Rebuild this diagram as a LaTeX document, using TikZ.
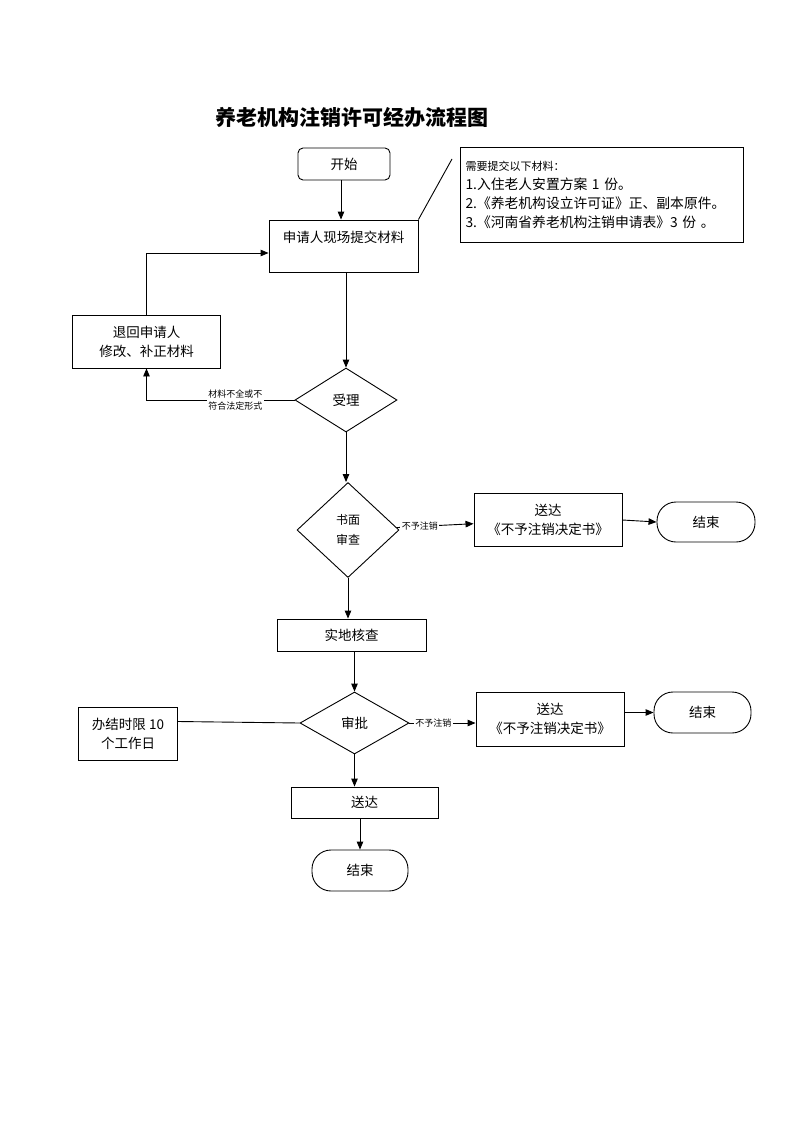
\documentclass[tikz,border=0pt]{standalone}
\usepackage{fontspec}
\setmainfont{Noto Sans CJK SC}
\usetikzlibrary{shapes.geometric,arrows.meta}
\tikzset{
  every picture/.style={line width=0.9pt},
  base/.style={draw=black, line width=0.9pt, inner sep=0pt, align=center, font=\fontsize{13.5}{19}\selectfont},
  procbox/.style={base, rectangle},
  startbox/.style={base, rectangle, rounded corners=5pt},
  endbox/.style={base, rectangle, rounded corners=19pt},
  decide/.style={base, diamond, aspect=1.6},
  lbl/.style={fill=white, inner sep=1.5pt, align=center, font=\fontsize{9}{12.5}\selectfont},
  arr/.style={-{Triangle[length=8pt,width=6.5pt]}, line width=0.9pt},
  ln/.style={line width=0.9pt}
}
\begin{document}
\begin{tikzpicture}[x=1pt,y=-1pt]
\useasboundingbox[fill=white] (0,0) rectangle (800,1132);

\node[font=\fontsize{21}{25}\selectfont\bfseries] (title) at (352,118) {养老机构注销许可经办流程图};

\node[startbox, minimum width=92pt, minimum height=32pt] (start) at (344,164) {开始};
\node[procbox, minimum width=149pt, minimum height=52pt] (apply) at (343.5,246) {申请人现场提交材料\\\mbox{}};
\node[procbox, minimum width=283pt, minimum height=95pt, text width=272pt, align=left, font=\fontsize{13.8}{19}\selectfont] (note) at (601.5,194.5)
  {{\fontsize{11}{15}\selectfont 需要提交以下材料：}\\
   1.入住老人安置方案 1 份。\\
   2.《养老机构设立许可证》正、副本原件。\\
   3.《河南省养老机构注销申请表》3 份 。};
\coordinate (notetip) at (452,159);

\node[decide, minimum width=102pt, minimum height=64pt] (accept) at (346,400) {受理};
\node[procbox, minimum width=148pt, minimum height=53pt] (retreat) at (146.5,341.5) {退回申请人\\修改、补正材料};

\node[decide, minimum width=102pt, minimum height=95pt, font=\fontsize{12}{20}\selectfont] (review) at (348,530) {书面\\审查};
\node[procbox, minimum width=148pt, minimum height=53pt] (refuse1) at (548,520) {送达\\《不予注销决定书》};
\node[endbox, minimum width=98pt, minimum height=40pt] (end1) at (706,522) {结束};

\node[procbox, minimum width=149pt, minimum height=32pt] (check) at (351.5,635) {实地核查};
\node[decide, minimum width=109pt, minimum height=62pt] (approve) at (354.5,723) {审批};
\node[procbox, minimum width=99pt, minimum height=53pt] (limit) at (128,733.5) {办结时限 10\\个工作日};
\node[procbox, minimum width=148pt, minimum height=54pt] (refuse2) at (550,719) {送达\\《不予注销决定书》};
\node[endbox, minimum width=97pt, minimum height=41pt] (end2) at (702.5,712.5) {结束};

\node[procbox, minimum width=147pt, minimum height=31pt] (deliver) at (364.5,802.5) {送达};
\node[endbox, minimum width=96pt, minimum height=41pt] (end3) at (360,870.5) {结束};

% connectors
\draw[arr] (start.south -| 341,0) -- (apply.north -| 341,0);
\draw[ln] (apply.north east) -- (notetip);
\draw[arr] (apply.south -| accept.north) -- (accept.north);
\draw[arr] (accept.west) -- node[lbl, pos=0.4] {材料不全或不\\符合法定形式} (accept.west -| retreat.south) -- (retreat.south);
\draw[arr] (retreat.north) |- ([yshift=-7pt]apply.west);
\draw[arr] (accept.south) -- (accept.south |- review.north);
\draw[arr] (review) -- node[lbl, pos=0.3] {不予注销} (refuse1);
\draw[arr] (refuse1.east) -- (end1.west);
\draw[arr] (review.south) -- (review.south |- check.north);
\draw[arr] (approve.north |- check.south) -- (approve.north);
\draw[ln] ([yshift=12pt]limit.east) -- (approve.west);
\draw[arr] (approve.east) -- node[lbl, pos=0.36] {不予注销} (approve.east -| refuse2.west);
\draw[arr] (end2.west -| refuse2.east) -- (end2.west);
\draw[arr] (approve.south) -- (approve.south |- deliver.north);
\draw[arr] (deliver.south -| end3.north) -- (end3.north);
\end{tikzpicture}
\end{document}
